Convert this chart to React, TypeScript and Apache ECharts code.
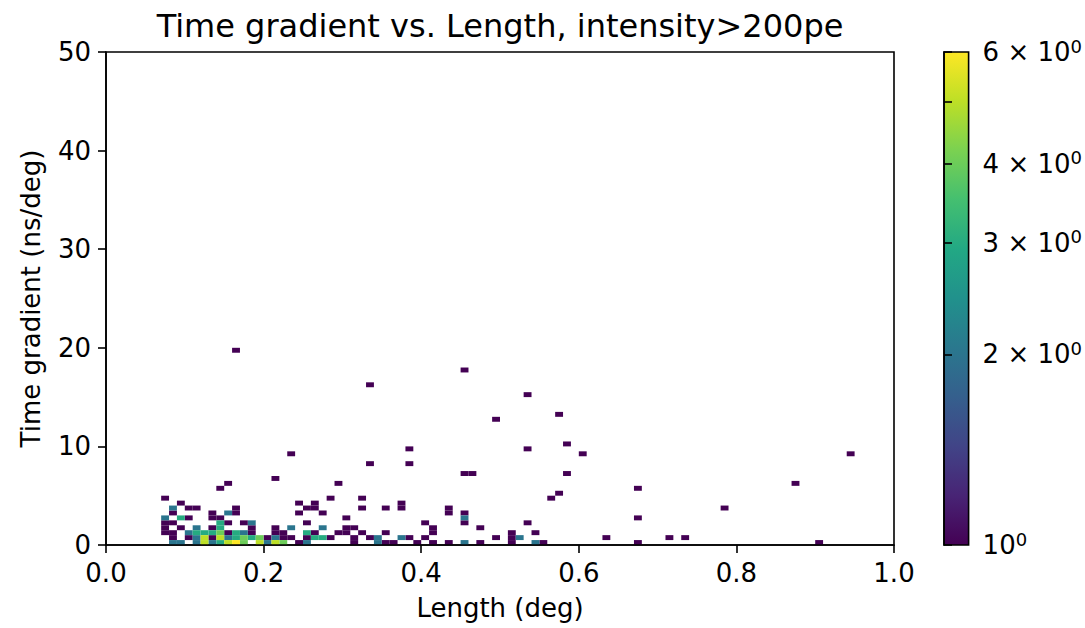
import React, { useEffect, useRef } from "react";
import * as echarts from "echarts";

const TITLE = "Time gradient vs. Length, intensity>200pe";
const X_LABEL = "Length (deg)";
const Y_LABEL = "Time gradient (ns/deg)";
const FONT = "DejaVu Sans";

const X_MIN = 0;
const X_MAX = 1;
const X_STEP = 0.2;
const Y_MIN = 0;
const Y_MAX = 50;
const Y_STEP = 10;

// histogram bin sizes
const BIN_X = 0.01;
const BIN_Y = 0.5;

// colour bar (log scale)
const COUNT_MIN = 1;
const COUNT_MAX = 6;
const COLORBAR_TICKS = [1, 2, 3, 4, 5, 6];
const COLORBAR_LABELS = [1, 2, 3, 4, 6];

// bin lower-left corners [length, gradient], grouped by count
const cellsCount1: [number, number][] = [
  [0.16, 19.5], [0.45, 17.5], [0.33, 16.0], [0.53, 15.0], [0.57, 13.0], [0.49, 12.5],
  [0.58, 10.0], [0.38, 9.5], [0.53, 9.5], [0.23, 9.0], [0.60, 9.0], [0.94, 9.0],
  [0.33, 8.0], [0.38, 8.0], [0.45, 7.0], [0.46, 7.0], [0.58, 7.0], [0.21, 6.5],
  [0.15, 6.0], [0.29, 6.0], [0.87, 6.0], [0.14, 5.5], [0.67, 5.5], [0.57, 5.0],
  [0.07, 4.5], [0.28, 4.5], [0.32, 4.5], [0.56, 4.5],
  [0.09, 4.0], [0.24, 4.0], [0.26, 4.0], [0.37, 4.0],
  [0.10, 3.5], [0.11, 3.5], [0.16, 3.5], [0.25, 3.5], [0.26, 3.5], [0.32, 3.5], [0.35, 3.5], [0.37, 3.5], [0.43, 3.5], [0.78, 3.5],
  [0.08, 3.0], [0.13, 3.0], [0.16, 3.0], [0.24, 3.0], [0.27, 3.0], [0.43, 3.0], [0.45, 3.0],
  [0.10, 2.5], [0.13, 2.5], [0.14, 2.5], [0.30, 2.5], [0.67, 2.5],
  [0.07, 2.0], [0.08, 2.0], [0.15, 2.0], [0.17, 2.0], [0.25, 2.0], [0.40, 2.0], [0.45, 2.0], [0.53, 2.0],
  [0.07, 1.5], [0.09, 1.5], [0.13, 1.5], [0.18, 1.5], [0.21, 1.5], [0.30, 1.5], [0.31, 1.5], [0.41, 1.5], [0.47, 1.5],
  [0.07, 1.0], [0.08, 1.0], [0.15, 1.0], [0.18, 1.0], [0.21, 1.0], [0.22, 1.0], [0.26, 1.0], [0.29, 1.0], [0.30, 1.0], [0.32, 1.0], [0.35, 1.0], [0.41, 1.0], [0.51, 1.0], [0.54, 1.0],
  [0.08, 0.5], [0.10, 0.5], [0.13, 0.5], [0.20, 0.5], [0.22, 0.5], [0.23, 0.5], [0.25, 0.5], [0.28, 0.5], [0.31, 0.5], [0.33, 0.5], [0.38, 0.5], [0.40, 0.5], [0.49, 0.5], [0.51, 0.5], [0.63, 0.5], [0.71, 0.5], [0.73, 0.5],
  [0.24, 0.0], [0.31, 0.0], [0.35, 0.0], [0.36, 0.0], [0.39, 0.0], [0.41, 0.0], [0.43, 0.0], [0.47, 0.0], [0.51, 0.0], [0.55, 0.0], [0.67, 0.0], [0.90, 0.0],
];

const cellsCount2: [number, number][] = [
  [0.08, 3.5], [0.15, 3.0], [0.07, 2.5], [0.45, 2.5], [0.18, 2.0],
  [0.11, 1.5], [0.23, 1.5], [0.27, 1.5],
  [0.10, 1.0], [0.17, 1.0],
  [0.11, 0.5], [0.15, 0.5], [0.21, 0.5], [0.34, 0.5], [0.37, 0.5], [0.52, 0.5],
  [0.08, 0.0], [0.09, 0.0], [0.11, 0.0], [0.13, 0.0], [0.20, 0.0], [0.25, 0.0], [0.34, 0.0], [0.45, 0.0], [0.54, 0.0],
];

const cellsCount3: [number, number][] = [
  [0.09, 2.5], [0.14, 2.0], [0.14, 1.5],
  [0.11, 1.0], [0.12, 1.0], [0.13, 1.0], [0.16, 1.0], [0.25, 1.0],
  [0.16, 0.5], [0.18, 0.5], [0.26, 0.5], [0.27, 0.5],
  [0.14, 0.0],
];

const cellsCount4: [number, number][] = [
  [0.14, 1.0], [0.17, 0.5], [0.19, 0.5], [0.17, 0.0], [0.22, 0.0],
];

const cellsCount5: [number, number][] = [
  [0.12, 0.5], [0.14, 0.5], [0.12, 0.0], [0.15, 0.0], [0.19, 0.0], [0.21, 0.0],
];

const cellsCount6: [number, number][] = [[0.16, 0.0]];

const VIRIDIS = [
  "#440154", "#482475", "#414487", "#355f8d", "#2a788e", "#21918c",
  "#22a884", "#44bf70", "#7ad151", "#bddf26", "#fde725",
];

function hexToRgb(h: string) {
  return [parseInt(h.slice(1, 3), 16), parseInt(h.slice(3, 5), 16), parseInt(h.slice(5, 7), 16)];
}

function viridis(t: number) {
  const tt = Math.max(0, Math.min(1, t));
  const pos = tt * (VIRIDIS.length - 1);
  const k = Math.min(Math.floor(pos), VIRIDIS.length - 2);
  const f = pos - k;
  const a = hexToRgb(VIRIDIS[k]);
  const b = hexToRgb(VIRIDIS[k + 1]);
  const c = a.map((v, n) => Math.round(v + (b[n] - v) * f));
  return `rgb(${c[0]},${c[1]},${c[2]})`;
}

const groups: [[number, number][], number][] = [
  [cellsCount1, 1], [cellsCount2, 2], [cellsCount3, 3],
  [cellsCount4, 4], [cellsCount5, 5], [cellsCount6, 6],
];
const cellData = groups.flatMap(([cells, count]) => cells.map(([x, y]) => [x, y, count]));

const LINE = { color: "#000", width: 1.6 };
const TICK_FONT = 26;

export default function App() {
  const ref = useRef<HTMLDivElement>(null);
  useEffect(() => {
    if (!ref.current) return;
    const chart = echarts.init(ref.current, null, { renderer: "svg" });
    const logMax = Math.log(COUNT_MAX);
    const option: any = {
      animation: false,
      backgroundColor: "#ffffff",
      textStyle: { fontFamily: FONT, color: "#000" },
      title: {
        text: TITLE,
        left: 495,
        textAlign: "center",
        top: 5,
        textStyle: { fontFamily: FONT, fontSize: 32, fontWeight: "normal", color: "#000" },
      },
      grid: [
        { left: 106, top: 52, width: 788, height: 493, show: true, borderColor: "#000", borderWidth: 1.6, backgroundColor: "transparent" },
        { left: 944, top: 52, width: 25, height: 493 },
      ],
      xAxis: [
        {
          gridIndex: 0, type: "value", min: X_MIN, max: X_MAX, interval: X_STEP,
          name: X_LABEL, nameLocation: "middle", nameGap: 50,
          nameTextStyle: { fontFamily: FONT, fontSize: TICK_FONT, color: "#000" },
          axisLine: { show: true, onZero: false, lineStyle: LINE },
          axisTick: { show: true, length: 8, lineStyle: LINE },
          axisLabel: { fontFamily: FONT, fontSize: TICK_FONT, color: "#000", margin: 15, formatter: (v: number) => v.toFixed(1) },
          splitLine: { show: false },
          z: 5,
        },
        { gridIndex: 1, type: "value", min: 0, max: 1, show: false },
      ],
      yAxis: [
        {
          gridIndex: 0, type: "value", min: Y_MIN, max: Y_MAX, interval: Y_STEP,
          name: Y_LABEL, nameLocation: "middle", nameGap: 62, nameRotate: 90,
          nameTextStyle: { fontFamily: FONT, fontSize: TICK_FONT, color: "#000" },
          axisLine: { show: true, onZero: false, lineStyle: LINE },
          axisTick: { show: true, length: 8, lineStyle: LINE },
          axisLabel: { fontFamily: FONT, fontSize: TICK_FONT, color: "#000", margin: 15 },
          splitLine: { show: false },
          z: 5,
        },
        {
          gridIndex: 1, type: "value", position: "right", min: 0, max: logMax,
          axisLine: { show: true, lineStyle: LINE },
          axisTick: { show: true, length: 8, lineStyle: LINE, customValues: COLORBAR_TICKS.map((v) => Math.log(v)) },
          axisLabel: {
            fontFamily: FONT, fontSize: TICK_FONT, color: "#000", margin: 14,
            customValues: COLORBAR_LABELS.map((v) => Math.log(v)),
            formatter: (v: number) => {
              const n = Math.round(Math.exp(v));
              return n === 1 ? "{b|10}{s|0}" : `{b|${n} \u00d7 10}{s|0}`;
            },
            rich: {
              b: { fontFamily: FONT, fontSize: TICK_FONT, lineHeight: 30, color: "#000" },
              s: { fontFamily: FONT, fontSize: 18, lineHeight: 18, verticalAlign: "top", color: "#000" },
            },
          },
          splitLine: { show: false },
          z: 5,
        },
      ],
      series: [
        {
          type: "custom",
          xAxisIndex: 0,
          yAxisIndex: 0,
          data: cellData,
          encode: { x: 0, y: 1 },
          clip: true,
          z: 2,
          renderItem: (_p: any, api: any) => {
            const x0 = api.value(0);
            const y0 = api.value(1);
            const c = api.value(2);
            const a = api.coord([x0, y0]);
            const b = api.coord([x0 + BIN_X, y0 + BIN_Y]);
            const t = Math.log(c / COUNT_MIN) / Math.log(COUNT_MAX / COUNT_MIN);
            return {
              type: "rect",
              shape: { x: a[0], y: b[1], width: b[0] - a[0], height: a[1] - b[1] },
              style: { fill: viridis(t), stroke: null },
            };
          },
        },
        {
          type: "custom",
          xAxisIndex: 1,
          yAxisIndex: 1,
          data: [[0, 0]],
          silent: true,
          z: 2,
          renderItem: (_p: any, api: any) => {
            const a = api.coord([0, 0]);
            const b = api.coord([1, logMax]);
            return {
              type: "rect",
              shape: { x: a[0], y: b[1], width: b[0] - a[0], height: a[1] - b[1] },
              style: {
                fill: {
                  type: "linear", x: 0, y: 1, x2: 0, y2: 0,
                  colorStops: VIRIDIS.map((c, k) => ({ offset: k / (VIRIDIS.length - 1), color: c })),
                },
                stroke: "#000",
                lineWidth: 1.6,
              },
            };
          },
        },
      ],
    };
    chart.setOption(option);
    return () => chart.dispose();
  }, []);
  return (
    <div
      ref={ref}
      style={{ position: "fixed", left: 0, top: 0, width: 1085, height: 628, background: "#fff" }}
    />
  );
}
